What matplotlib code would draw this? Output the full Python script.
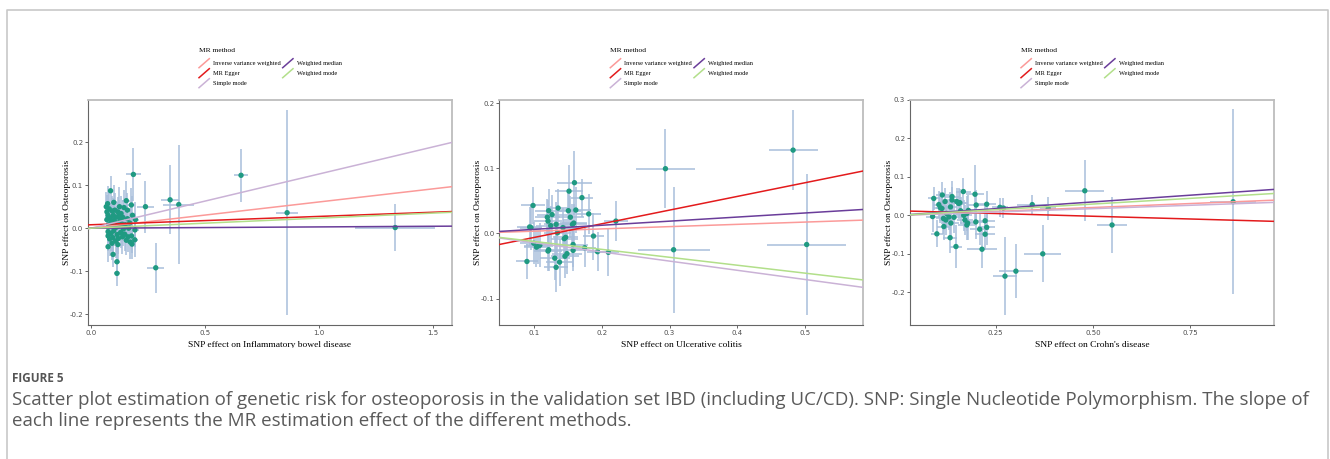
import matplotlib
matplotlib.use("Agg")
import matplotlib.pyplot as plt
from matplotlib.lines import Line2D
from matplotlib.transforms import Bbox, TransformedBbox

# MR methods and their estimated lines (slope, intercept) per exposure
methods = ["Inverse variance weighted", "MR Egger", "Simple mode",
           "Weighted median", "Weighted mode"]
method_colors = ["#FB9A99", "#E31A1C", "#CAB2D6", "#6A3D9A", "#B2DF8A"]

ibd_slope = [0.061, 0.0194, 0.126, 0.003, 0.0234]
ibd_icpt = [0.0, 0.0080, 0.0, 0.0, 0.0]
uc_slope = [0.035, 0.2106, -0.1415, 0.063, -0.122]
uc_icpt = [0.0, -0.0273, 0.0, 0.0, 0.0]
cd_slope = [0.041, -0.0285, 0.035, 0.070, 0.059]
cd_icpt = [0.0, 0.012, 0.0, 0.0, 0.0]

# SNP effects: exposure (bx), outcome (by) and their standard errors
ibd_bx = [0.086, 0.073, 0.067, 0.080, 0.093, 0.105, 0.118, 0.132, 0.155, 0.177,
          0.145, 0.125, 0.112, 0.098, 0.085, 0.075, 0.070, 0.090, 0.102, 0.115,
          0.128, 0.140, 0.160, 0.182, 0.195, 0.170, 0.150, 0.135, 0.078, 0.095,
          0.110, 0.122, 0.142, 0.165, 0.193, 0.075, 0.088, 0.100, 0.115, 0.130,
          0.148, 0.162, 0.178, 0.075, 0.082, 0.096, 0.108, 0.120, 0.138, 0.155,
          0.172, 0.192, 0.180, 0.118, 0.075, 0.097, 0.114, 0.114, 0.092, 0.070,
          0.100, 0.125, 0.160,
          0.186, 0.239, 0.284, 0.347, 0.385, 0.658, 0.860, 1.334]
ibd_by = [0.087, 0.057, 0.050, 0.045, 0.040, 0.042, 0.038, 0.034, 0.064, 0.054,
          0.048, 0.030, 0.026, 0.030, 0.024, 0.030, 0.020, 0.015, 0.018, 0.012,
          0.020, 0.025, 0.022, 0.030, 0.020, 0.012, 0.008, 0.010, 0.008, 0.005,
          0.002, 0.005, -0.002, 0.000, -0.004, -0.008, -0.012, -0.006, -0.015, -0.010,
          -0.014, -0.020, -0.018, -0.018, -0.025, -0.022, -0.030, -0.024, -0.020, -0.028,
          -0.032, -0.027, -0.037, -0.038, -0.043, -0.061, -0.078, -0.105, -0.035, 0.038,
          0.060, 0.050, 0.042,
          0.125, 0.050, -0.092, 0.066, 0.055, 0.123, 0.036, 0.0015]
ibd_sx = [0.012, 0.012, 0.011, 0.013, 0.012, 0.014, 0.013, 0.015, 0.018, 0.015,
          0.016, 0.015, 0.013, 0.012, 0.011, 0.010, 0.012, 0.013, 0.012, 0.014,
          0.015, 0.016, 0.017, 0.016, 0.015, 0.015, 0.014, 0.015, 0.011, 0.012,
          0.013, 0.014, 0.015, 0.015, 0.016, 0.011, 0.012, 0.013, 0.014, 0.015,
          0.014, 0.015, 0.016, 0.011, 0.012, 0.013, 0.013, 0.014, 0.015, 0.015,
          0.016, 0.015, 0.015, 0.014, 0.011, 0.012, 0.013, 0.012, 0.012, 0.010,
          0.012, 0.014, 0.015,
          0.034, 0.038, 0.037, 0.040, 0.067, 0.030, 0.048, 0.175]
ibd_sy = [0.035, 0.040, 0.035, 0.040, 0.035, 0.040, 0.035, 0.040, 0.045, 0.040,
          0.040, 0.035, 0.035, 0.040, 0.035, 0.035, 0.040, 0.040, 0.035, 0.040,
          0.035, 0.040, 0.040, 0.045, 0.040, 0.035, 0.040, 0.035, 0.040, 0.035,
          0.040, 0.035, 0.040, 0.035, 0.040, 0.035, 0.040, 0.035, 0.040, 0.035,
          0.040, 0.035, 0.040, 0.035, 0.040, 0.035, 0.040, 0.035, 0.040, 0.035,
          0.040, 0.040, 0.035, 0.040, 0.035, 0.030, 0.030, 0.030, 0.040, 0.040,
          0.040, 0.045, 0.040,
          0.062, 0.060, 0.058, 0.080, 0.138, 0.062, 0.238, 0.055]

uc_bx = [0.294, 0.482, 0.502, 0.306, 0.221, 0.188, 0.181, 0.171, 0.160, 0.152,
         0.162, 0.151, 0.154, 0.136, 0.122, 0.127, 0.120, 0.121, 0.125, 0.133,
         0.143, 0.135, 0.157, 0.159, 0.099, 0.096, 0.094, 0.100, 0.104, 0.107,
         0.109, 0.090, 0.121, 0.122, 0.131, 0.138, 0.133, 0.146, 0.149, 0.145,
         0.147, 0.158, 0.158, 0.175, 0.194, 0.210]
uc_by = [0.0995, 0.128, -0.017, -0.025, 0.019, -0.004, 0.030, 0.055, 0.078, 0.065,
         0.036, 0.035, 0.025, 0.039, 0.035, 0.029, 0.025, 0.019, 0.012, 0.014,
         0.009, 0.001, 0.014, 0.016, 0.043, 0.009, 0.010, -0.015, -0.021, -0.019,
         -0.018, -0.043, -0.027, -0.025, -0.038, -0.044, -0.052, -0.035, -0.031, -0.008,
         -0.006, -0.017, -0.026, -0.022, -0.028, -0.029]
uc_sx = [0.044, 0.036, 0.058, 0.053, 0.018, 0.016, 0.018, 0.016, 0.026, 0.020,
         0.022, 0.018, 0.020, 0.018, 0.020, 0.022, 0.018, 0.020, 0.022, 0.018,
         0.024, 0.020, 0.022, 0.020, 0.018, 0.016, 0.018, 0.020, 0.018, 0.022,
         0.020, 0.016, 0.020, 0.018, 0.022, 0.020, 0.018, 0.020, 0.022, 0.020,
         0.018, 0.022, 0.020, 0.016, 0.016, 0.016]
uc_sy = [0.061, 0.062, 0.109, 0.097, 0.031, 0.036, 0.031, 0.029, 0.049, 0.040,
         0.035, 0.030, 0.032, 0.030, 0.034, 0.030, 0.028, 0.032, 0.030, 0.034,
         0.030, 0.036, 0.032, 0.030, 0.028, 0.034, 0.030, 0.032, 0.030, 0.028,
         0.034, 0.027, 0.030, 0.032, 0.034, 0.036, 0.038, 0.034, 0.032, 0.030,
         0.028, 0.034, 0.032, 0.030, 0.030, 0.036]

cd_bx = [0.860, 0.479, 0.549, 0.371, 0.302, 0.274, 0.344, 0.385, 0.261, 0.270,
         0.215, 0.223, 0.227, 0.209, 0.223, 0.199, 0.227, 0.200, 0.197, 0.167,
         0.158, 0.148, 0.133, 0.099, 0.138, 0.113, 0.091, 0.088, 0.117, 0.143,
         0.176, 0.171, 0.176, 0.150, 0.155, 0.138, 0.134, 0.120, 0.112, 0.124,
         0.116, 0.130, 0.122, 0.135, 0.180, 0.178, 0.168, 0.104, 0.108, 0.160]
cd_by = [0.0355, 0.064, -0.025, -0.100, -0.145, -0.158, 0.028, 0.018, 0.021, 0.019,
         -0.088, -0.049, -0.031, -0.036, -0.014, -0.017, 0.029, 0.027, 0.055, 0.062,
         0.033, -0.081, -0.058, -0.048, 0.049, 0.053, 0.044, -0.003, -0.029, -0.005,
         0.005, -0.012, -0.025, 0.036, 0.031, 0.040, 0.022, 0.036, 0.018, 0.005,
         -0.008, -0.004, -0.012, -0.020, 0.013, -0.020, 0.000, 0.028, 0.020, 0.012]
cd_sx = [0.060, 0.050, 0.039, 0.048, 0.043, 0.032, 0.039, 0.020, 0.020, 0.020,
         0.038, 0.025, 0.022, 0.024, 0.026, 0.024, 0.025, 0.022, 0.022, 0.020,
         0.020, 0.016, 0.018, 0.016, 0.018, 0.016, 0.016, 0.016, 0.018, 0.020,
         0.022, 0.020, 0.022, 0.018, 0.020, 0.018, 0.016, 0.018, 0.016, 0.018,
         0.018, 0.020, 0.018, 0.020, 0.022, 0.020, 0.022, 0.016, 0.016, 0.020]
cd_sy = [0.240, 0.079, 0.072, 0.074, 0.071, 0.102, 0.024, 0.030, 0.025, 0.025,
         0.050, 0.040, 0.045, 0.040, 0.040, 0.045, 0.035, 0.040, 0.075, 0.035,
         0.035, 0.055, 0.040, 0.035, 0.040, 0.035, 0.030, 0.040, 0.035, 0.040,
         0.045, 0.040, 0.040, 0.035, 0.040, 0.035, 0.040, 0.035, 0.040, 0.035,
         0.040, 0.035, 0.040, 0.035, 0.040, 0.045, 0.040, 0.035, 0.040, 0.035]

exposures = ["Inflammatory bowel disease", "Ulcerative colitis", "Crohn's disease"]

ibd_xticks = [0.0, 0.5, 1.0, 1.5]
ibd_xticklabels = ["0.0", "0.5", "1.0", "1.5"]
ibd_yticks = [-0.2, -0.1, 0.0, 0.1, 0.2]
ibd_yticklabels = ["-0.2", "-0.1", "0.0", "0.1", "0.2"]
uc_xticks = [0.1, 0.2, 0.3, 0.4, 0.5]
uc_xticklabels = ["0.1", "0.2", "0.3", "0.4", "0.5"]
uc_yticks = [-0.1, 0.0, 0.1, 0.2]
uc_yticklabels = ["-0.1", "0.0", "0.1", "0.2"]
cd_xticks = [0.25, 0.50, 0.75]
cd_xticklabels = ["0.25", "0.50", "0.75"]
cd_yticks = [-0.2, -0.1, 0.0, 0.1, 0.2, 0.3]
cd_yticklabels = ["-0.2", "-0.1", "0.0", "0.1", "0.2", "0.3"]

W, H = 1330, 459
fig = plt.figure(figsize=(W / 100, H / 100), dpi=100)
fig.patch.set_facecolor("white")


def fx(px):
    return px / W


def fy(py):
    return 1 - py / H


SERIF = "Liberation Serif"

panels = [
    dict(left=88, xlim=(-0.013, 1.583), ylim=(-0.225, 0.298),
         bx=ibd_bx, by=ibd_by, sx=ibd_sx, sy=ibd_sy, slope=ibd_slope, icpt=ibd_icpt,
         xt=ibd_xticks, xtl=ibd_xticklabels, yt=ibd_yticks, ytl=ibd_yticklabels),
    dict(left=499.3, xlim=(0.0493, 0.5854), ylim=(-0.1406, 0.205),
         bx=uc_bx, by=uc_by, sx=uc_sx, sy=uc_sy, slope=uc_slope, icpt=uc_icpt,
         xt=uc_xticks, xtl=uc_xticklabels, yt=uc_yticks, ytl=uc_yticklabels),
    dict(left=910, xlim=(0.030, 0.965), ylim=(-0.285, 0.300),
         bx=cd_bx, by=cd_by, sx=cd_sx, sy=cd_sy, slope=cd_slope, icpt=cd_icpt,
         xt=cd_xticks, xtl=cd_xticklabels, yt=cd_yticks, ytl=cd_yticklabels),
]

ax_w, top, bottom = 364, 100, 325
clip_box = TransformedBbox(Bbox([[0, fy(347.5)], [1, 1]]), fig.transFigure)

for p, expo in zip(panels, exposures):
    L = p["left"]
    ax = fig.add_axes([fx(L), fy(bottom), ax_w / W, (bottom - top) / H])
    ax.errorbar(p["bx"], p["by"], xerr=p["sx"], yerr=p["sy"], fmt="none",
                ecolor="#a8bedb", elinewidth=1.1, capsize=0, zorder=1)
    ax.scatter(p["bx"], p["by"], s=15, color="#1f9a82", edgecolors="none", zorder=2)
    for m, b, c in zip(p["slope"], p["icpt"], method_colors):
        ax.axline((0, b), slope=m, color=c, lw=1.1, zorder=3)
    ax.set_xlim(*p["xlim"])
    ax.set_ylim(*p["ylim"])
    ax.set_xticks(p["xt"])
    ax.set_xticklabels(p["xtl"])
    ax.set_yticks(p["yt"])
    ax.set_yticklabels(p["ytl"])
    ax.tick_params(labelsize=5, colors="#4d4d4d", length=2, width=0.6, pad=1.5)
    for s in ["left", "bottom"]:
        ax.spines[s].set_color("#666666")
        ax.spines[s].set_linewidth(0.8)
    for s in ["top", "right"]:
        ax.spines[s].set_color("#bdbdbd")
        ax.spines[s].set_linewidth(1.3)
    ax.set_ylabel("SNP effect on Osteoporosis", family=SERIF, fontsize=6.8, va="center")
    ax.yaxis.set_label_coords(-21 / ax_w, 0.5)
    xl = ax.set_xlabel("SNP effect on " + expo, family=SERIF, fontsize=6.8, va="center")
    ax.xaxis.set_label_coords(0.5, -20 / (bottom - top))
    xl.set_clip_box(clip_box)
    xl.set_clip_on(True)

    # legend drawn as in ggplot, with diagonal abline keys
    fig.text(fx(L + 111), fy(50.7), "MR method", family=SERIF, fontsize=5.4,
             va="center", ha="left")
    for i, (name, c) in enumerate(zip(methods, method_colors)):
        col, row = divmod(i, 3)
        gx = L + 111 + col * 83.7
        cy = 63.2 + row * 10
        fig.add_artist(Line2D([fx(gx), fx(gx + 10.3)], [fy(cy + 4.5), fy(cy - 4.5)],
                              transform=fig.transFigure, color=c, lw=1.1))
        fig.text(fx(gx + 14), fy(cy), name, family=SERIF, fontsize=4.6,
                 va="center", ha="left")

# outer frame of the figure panel
fig.add_artist(Line2D([fx(7), fx(7), fx(1328), fx(1328)],
                      [fy(470), fy(10), fy(10), fy(470)],
                      transform=fig.transFigure, color="#c8c8c8", lw=1.2))

fig.text(fx(12), fy(379), "FIGURE 5", family="Open Sans", fontsize=8.5,
         weight="bold", color="#555555", va="center", ha="left")
fig.text(fx(12), fy(400),
         "Scatter plot estimation of genetic risk for osteoporosis in the validation set IBD "
         "(including UC/CD). SNP: Single Nucleotide Polymorphism. The slope of",
         family="Open Sans", fontsize=13.5, color="#5a5a5a", va="center", ha="left")
fig.text(fx(12), fy(421),
         "each line represents the MR estimation effect of the different methods.",
         family="Open Sans", fontsize=13.5, color="#5a5a5a", va="center", ha="left")

fig.savefig("out.png", dpi=100)
